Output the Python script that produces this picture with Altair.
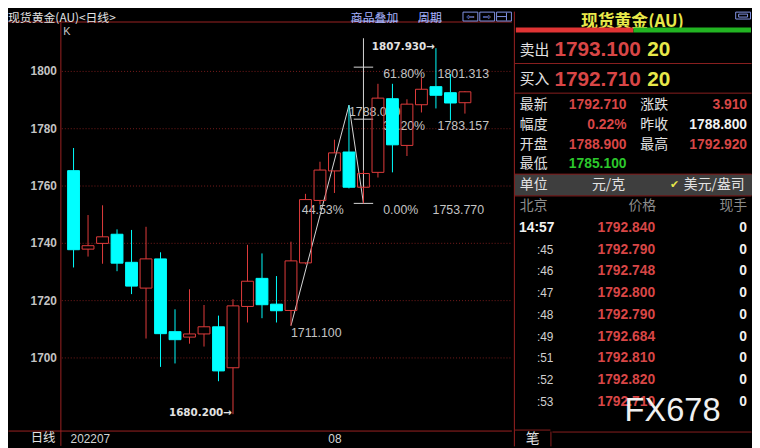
import altair as alt
import pandas as pd

# ---------------- data ----------------
# daily candles, 2022-07-06 ... 2022-08-12 (trading days), index 0..27
day_index = list(range(28))
opens = [1765.2, 1737.8, 1739.8, 1743.0, 1733.2, 1724.2, 1734.4, 1709.0, 1707.1, 1708.2,
         1710.7, 1696.4, 1717.8, 1727.6, 1718.6, 1716.4, 1733.0, 1754.8, 1765.1, 1771.7,
         1759.4, 1764.6, 1790.3, 1774.0, 1788.2, 1794.5, 1792.4, 1788.9]
highs = [1773.1, 1749.7, 1753.1, 1744.7, 1744.5, 1745.6, 1736.7, 1716.8, 1723.8, 1718.3,
         1714.6, 1720.3, 1739.3, 1736.3, 1728.4, 1740.4, 1757.1, 1768.3, 1776.0, 1788.03,
         1765.3, 1795.5, 1795.5, 1790.1, 1797.8, 1807.93, 1798.9, 1792.92]
lows = [1731.4, 1735.2, 1732.7, 1730.1, 1722.1, 1706.6, 1696.7, 1697.9, 1704.8, 1703.8,
        1691.7, 1680.2, 1712.2, 1713.7, 1712.2, 1711.1, 1732.5, 1753.4, 1757.4, 1759.0,
        1753.77, 1762.8, 1764.6, 1770.3, 1785.5, 1786.9, 1782.7, 1785.1]
closes = [1737.6, 1739.0, 1742.1, 1732.9, 1724.9, 1734.4, 1708.3, 1706.2, 1708.2, 1710.7,
          1695.3, 1718.0, 1726.6, 1718.4, 1716.3, 1733.7, 1755.1, 1765.4, 1771.4, 1759.4,
          1764.2, 1790.5, 1774.2, 1788.4, 1793.6, 1791.5, 1788.8, 1792.71]

x_tick_values = [0, 18]
x_tick_labels = ["202207", "08"]
y_tick_values = [1700, 1720, 1740, 1760, 1780, 1800]

swing_index = [15, 19, 20]
swing_price = [1711.1, 1788.03, 1753.77]
swing_text = ["1711.100", "1788.030"]

fib_index = 20
fib_pct = ["0.00%", "38.20%", "61.80%"]
fib_price = [1753.77, 1783.157, 1801.313]
fib_text = ["1753.770", "1783.157", "1801.313"]
fib_top = 1811.4
retrace_text = "44.53%"

extreme_index = [11, 25]
extreme_price = [1680.2, 1807.93]
extreme_text = ["1680.200→", "1807.930→"]

panel_title = "现货黄金(AU)"
ask_price, ask_size = "1793.100", "20"
bid_price, bid_size = "1792.710", "20"
quote_left_labels = ["最新", "幅度", "开盘", "最低"]
quote_left_values = ["1792.710", "0.22%", "1788.900", "1785.100"]
quote_right_labels = ["涨跌", "昨收", "最高"]
quote_right_values = ["3.910", "1788.800", "1792.920"]
tick_times = ["14:57", ":45", ":46", ":47", ":48", ":49", ":51", ":52", ":53"]
tick_prices = ["1792.840", "1792.790", "1792.748", "1792.800", "1792.790",
               "1792.684", "1792.810", "1792.820", "1792.710"]
tick_vols = ["0", "0", "0", "0", "0", "0", "0", "0", "0"]

# ---------------- styles ----------------
CJK = "Noto Sans CJK SC"
NUM = "Liberation Sans"
RED = "#e23c3c"
CYAN = "#00ffff"
FRAME = "#9b2323"
GRID = "#7a1c1c"
WHITE = "#e2e2e2"
GRAY = "#c4c4c4"
ONE = alt.Data(values=[{"t": ""}])


def label(text, x, y, size=14, color=WHITE, align="left", weight="normal", font=CJK):
    return alt.Chart(alt.Data(values=[{"t": text}])).mark_text(
        align=align, baseline="middle", fontSize=size, color=color,
        fontWeight=weight, font=font
    ).encode(x=alt.value(x), y=alt.value(y), text="t:N")


def hline(x1, x2, y, color=FRAME, w=1):
    return alt.Chart(ONE).mark_rule(color=color, strokeWidth=w).encode(
        x=alt.value(x1), x2=alt.value(x2), y=alt.value(y))


def vline(x, y1, y2, color=FRAME, w=1):
    return alt.Chart(ONE).mark_rule(color=color, strokeWidth=w).encode(
        x=alt.value(x), y=alt.value(y1), y2=alt.value(y2))


def box(x1, x2, y1, y2, stroke=None, fill="transparent"):
    kw = dict(fill=fill)
    if stroke is not None:
        kw.update(stroke=stroke, strokeWidth=1)
    return alt.Chart(ONE).mark_rect(**kw).encode(
        x=alt.value(x1), x2=alt.value(x2), y=alt.value(y1), y2=alt.value(y2))


# ---------------- candlestick panel ----------------
xs = alt.Scale(domain=[-0.5, 29.9], nice=False, zero=False)
ys = alt.Scale(domain=[1674.4828, 1820.6897], nice=False, zero=False)

label_expr = "datum.value == %d ? '%s' : '%s'" % (x_tick_values[0], x_tick_labels[0], x_tick_labels[1])
xaxis = alt.Axis(
    values=x_tick_values, labelExpr=label_expr, title=None, grid=False, domain=False,
    ticks=False, tickSize=0, labelFont=NUM, labelFontSize=12, labelColor="#d4d4d4",
    labelPadding=8, labelBaseline="middle", labelFlush=False, labelOverlap=False,
    labelAlign={"condition": {"test": "datum.value == 0", "value": "left"}, "value": "center"},
    labelOffset={"condition": {"test": "datum.value == 0", "value": -3.5}, "value": 0},
    minExtent=16, maxExtent=16)
yaxis = alt.Axis(
    values=y_tick_values, format="d", title=None, grid=True, gridColor=GRID, gridDash=[1, 2],
    gridWidth=1, domain=False, ticks=False, tickSize=0, labelFont=NUM,
    labelFontWeight="bold", labelFontSize=12, labelColor=GRAY, labelPadding=5,
    minExtent=54, maxExtent=54)


def X(f):
    return alt.X(f, scale=xs, axis=xaxis)


def Y(f):
    return alt.Y(f, scale=ys, axis=yaxis)


df = pd.DataFrame({"i": day_index, "open": opens, "high": highs, "low": lows, "close": closes})
up = "datum.close >= datum.open"
cbase = alt.Chart(df).transform_calculate(
    top="max(datum.open, datum.close)", bot="min(datum.open, datum.close)")
col = alt.condition(up, alt.value(RED), alt.value(CYAN))

wick_hi = cbase.mark_rule(strokeWidth=1).encode(x=X("i:Q"), y=Y("high:Q"), y2="top:Q", color=col)
wick_lo = cbase.mark_rule(strokeWidth=1).encode(x=X("i:Q"), y=Y("bot:Q"), y2="low:Q", color=col)
bodies = cbase.mark_bar(size=12, strokeWidth=1).encode(
    x=X("i:Q"), y=Y("open:Q"), y2="close:Q",
    fill=alt.condition(up, alt.value("transparent"), alt.value(CYAN)),
    stroke=col)

LINE = "#d8d8d8"
swing_df = pd.DataFrame({"i": swing_index, "p": swing_price, "k": [0, 1, 2]})
swing_line = alt.Chart(swing_df).mark_line(color=LINE, strokeWidth=1).encode(
    x=X("i:Q"), y=Y("p:Q"), order="k:Q")

fib_df = pd.DataFrame({"i": [fib_index] * 3, "p": fib_price, "pct": fib_pct, "v": fib_text})
fib_vert = alt.Chart(pd.DataFrame({"i": [fib_index], "p0": [fib_price[0]], "p1": [fib_top]})).mark_rule(
    color=LINE, strokeWidth=1).encode(x=X("i:Q"), y=Y("p0:Q"), y2="p1:Q")
fib_ticks = alt.Chart(fib_df).transform_calculate(
    xa="datum.i - 0.67", xb="datum.i + 0.67").mark_rule(color=LINE, strokeWidth=1).encode(
    x=X("xa:Q"), x2="xb:Q", y=Y("p:Q"))
fib_pct_text = alt.Chart(fib_df).mark_text(
    align="left", baseline="middle", dx=20, dy=7, fontSize=12.5, font=NUM, color=GRAY).encode(
    x=X("i:Q"), y=Y("p:Q"), text="pct:N")
fib_val_top = alt.Chart(fib_df.iloc[1:]).mark_text(
    align="left", baseline="middle", dx=75, dy=7, fontSize=12.5, font=NUM, color=GRAY).encode(
    x=X("i:Q"), y=Y("p:Q"), text="v:N")
fib_val_low = alt.Chart(fib_df.iloc[:1]).mark_text(
    align="left", baseline="middle", dx=70, dy=7, fontSize=12.5, font=NUM, color=GRAY).encode(
    x=X("i:Q"), y=Y("p:Q"), text="v:N")
retrace = alt.Chart(pd.DataFrame({"i": [swing_index[0]], "p": [fib_price[0]], "t": [retrace_text]})).mark_text(
    align="left", baseline="middle", dx=11, dy=7, fontSize=12.5, font=NUM, color=GRAY).encode(
    x=X("i:Q"), y=Y("p:Q"), text="t:N")

swing_lbl = alt.Chart(pd.DataFrame({"i": swing_index[:2], "p": swing_price[:2], "t": swing_text})).mark_text(
    align="left", baseline="middle", dy=7, fontSize=12.5, font=NUM, color=GRAY).encode(
    x=X("i:Q"), y=Y("p:Q"), text="t:N")
extreme_lbl = alt.Chart(pd.DataFrame({"i": extreme_index, "p": extreme_price, "t": extreme_text})).mark_text(
    align="right", baseline="middle", dx=-1, dy=-1, fontSize=10.5, font="DejaVu Sans", fontWeight="bold",
    color=WHITE).encode(x=X("i:Q"), y=Y("p:Q"), text="t:N")

LINK = "#a8b4ff"
ICON = "#8494e6"
left_chrome = [
    hline(-53.5, 456, 10.5), hline(-53.5, 456, 424.5), vline(-0.5, 11, 439.5),
    label("现货黄金(AU)<日线>", -54, 6, size=12),
    label("商品叠加", 293, 6, size=12, color=LINK), hline(293, 341, 9.5, color=LINK),
    label("周期", 361, 6, size=12, color=LINK), hline(361, 385, 9.5, color=LINK),
    box(406.5, 421.5, 0.5, 9.5, stroke=ICON), box(423.5, 438.5, 0.5, 9.5, stroke=ICON),
    box(440.5, 455.5, 0.5, 9.5, stroke=ICON),
    label("⇦", 414, 5, size=10, color=ICON, align="center", font="DejaVu Sans"),
    label("⇨", 431, 5, size=10, color=ICON, align="center", font="DejaVu Sans"),
    vline(450.5, 1, 9, color=ICON), hline(441, 450, 5, color=ICON),
    label("K", 2, 21, size=11, color=GRAY, font=NUM),
    label("日线", -6, 432, size=12.5, align="right"),
]

left = alt.layer(
    *left_chrome[:3],
    fib_vert, fib_ticks, swing_line,
    fib_pct_text, fib_val_top, fib_val_low, retrace, swing_lbl,
    wick_hi, wick_lo, bodies, extreme_lbl,
    *left_chrome[3:],
).properties(width=456, height=424)

# ---------------- quote panel ----------------
QRED = "#d84646"
YEL = "#e8e84a"
GREEN = "#2cc82c"
HGRAY = "#8c8c8c"
SEP = "#8a2020"

rows_y = [94.3, 114.7, 134.7, 154.7]
right_layers = [
    vline(1.5, 0, 440),
    label(panel_title, 121, 10.5, size=17, color=YEL, align="center", weight="bold"),
    box(225.5, 240.5, 0.5, 7.5, stroke=ICON), box(228.5, 237.5, 2.5, 5.5, stroke=ICON),
    box(3, 122, 16, 21, fill="#e03434"), box(122, 241, 16, 21, fill="#22b422"),
    label("卖出", 7, 38.7, size=15),
    label(ask_price, 42, 39, size=21, color=QRED, weight="bold", font=NUM),
    label(ask_size, 136, 39, size=21, color=YEL, weight="bold", font=NUM),
    hline(2, 241.5, 52.5, color=SEP),
    label("买入", 7, 68.7, size=15),
    label(bid_price, 42, 69, size=21, color=QRED, weight="bold", font=NUM),
    label(bid_size, 136, 69, size=21, color=YEL, weight="bold", font=NUM),
    hline(2, 241.5, 82.5, color=SEP),
]
left_colors = [QRED, QRED, QRED, GREEN]
right_colors = [QRED, "#f2f2f2", QRED]
for k in range(4):
    right_layers.append(label(quote_left_labels[k], 7, rows_y[k], size=14))
    right_layers.append(label(quote_left_values[k], 115, rows_y[k], size=14, color=left_colors[k],
                              align="right", weight="bold", font=NUM))
for k in range(3):
    right_layers.append(label(quote_right_labels[k], 129, rows_y[k], size=14))
    right_layers.append(label(quote_right_values[k], 237, rows_y[k], size=14, color=right_colors[k],
                              align="right", weight="bold", font=NUM))
right_layers += [
    box(2, 242, 164.5, 186, fill="#3e3e3e"),
    hline(2, 241.5, 164.5, color=SEP), hline(2, 241.5, 186.5, color=SEP),
    label("单位", 7, 175.3, size=14),
    label("元/克", 80, 175.3, size=14),
    label("✔", 159, 175.3, size=11, color=YEL, font="DejaVu Sans"),
    label("美元/盎司", 173, 175.3, size=14),
    label("北京", 7, 197, size=14, color=HGRAY),
    label("价格", 117, 197, size=14, color=HGRAY),
    label("现手", 237, 197, size=14, color=HGRAY, align="right"),
]

tick_df = pd.DataFrame({"k": list(range(len(tick_times))), "t": tick_times,
                        "price": tick_prices, "vol": tick_vols})
yrow = alt.Y("k:O", scale=alt.Scale(type="point", range=[219, 395], padding=0), axis=None)
tbase = alt.Chart(tick_df)
right_layers += [
    tbase.transform_filter("datum.k == 0").mark_text(
        align="right", baseline="middle", fontSize=14, fontWeight="bold", font=NUM, color="#f2f2f2"
    ).encode(x=alt.value(42), y=yrow, text="t:N"),
    tbase.transform_filter("datum.k > 0").mark_text(
        align="right", baseline="middle", fontSize=12, font=NUM, color="#d0d0d0"
    ).encode(x=alt.value(41), y=yrow, text="t:N"),
    tbase.mark_text(
        align="right", baseline="middle", fontSize=14, fontWeight="bold", font=NUM, color=QRED
    ).encode(x=alt.value(144), y=yrow, text="price:N"),
    tbase.mark_text(
        align="right", baseline="middle", fontSize=14, fontWeight="bold", font=NUM, color="#f2f2f2"
    ).encode(x=alt.value(237), y=yrow, text="vol:N"),
    label("FX678", 113, 404, size=33, color="#f0f0f0", font=NUM),
    hline(40, 241.5, 425.5, color=SEP),
    vline(38.5, 425, 440, color=SEP),
    hline(2, 38, 423.5, color=SEP),
    label("笔", 20, 433, size=14, align="center"),
]

right = alt.layer(*right_layers).properties(width=242, height=440)

chart = alt.hconcat(left, right, spacing=0).properties(
    padding=0, background="#000000"
).configure_view(strokeWidth=0)

chart.save("out.html", embed_options={"renderer": "svg", "actions": False})
